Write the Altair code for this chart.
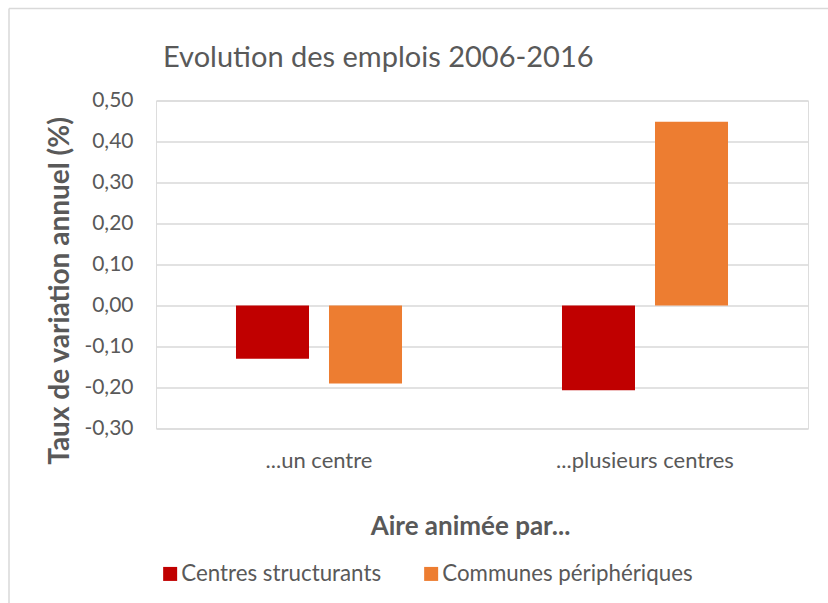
import altair as alt
import pandas as pd

chart_title = "Evolution des emplois 2006-2016"
categories = ["...un centre", "...plusieurs centres"]
series = ["Centres structurants", "Communes périphériques"]
centres_structurants = [-0.13, -0.207]
communes_peripheriques = [-0.19, 0.448]
y_ticks = [-0.3, -0.2, -0.1, 0.0, 0.1, 0.2, 0.3, 0.4, 0.5]
colors = ["#C00000", "#ED7D31"]

rows = []
for i, c in enumerate(categories):
    rows.append({"cat": c, "serie": series[0], "val": centres_structurants[i]})
    rows.append({"cat": c, "serie": series[1], "val": communes_peripheriques[i]})
df = pd.DataFrame(rows)
title_df = pd.DataFrame({"t": [chart_title]})

FONT = "Lato"
GRAY = "#595959"

bars = alt.Chart(df).mark_bar().encode(
    x=alt.X("cat:N", sort=categories,
            scale=alt.Scale(paddingInner=0, paddingOuter=0),
            axis=alt.Axis(title="Aire animée par...", labelAngle=0, domain=False, ticks=False,
                          grid=False, labelPadding=22, labelFontSize=22, labelColor=GRAY,
                          labelFont=FONT, titleFont=FONT, titleFontSize=26, titleFontWeight="bold",
                          titleColor=GRAY, titleX=314, titleY=98, titleBaseline="middle")),
    xOffset=alt.XOffset("serie:N", sort=series,
                        scale=alt.Scale(paddingInner=0.215, paddingOuter=0.86)),
    y=alt.Y("val:Q", scale=alt.Scale(domain=[-0.3, 0.5], nice=False),
            axis=alt.Axis(title="Taux de variation annuel (%)", values=y_ticks,
                          labelExpr="replace(replace(format(datum.value, '.2f'), '.', ','), '\u2212', '-')",
                          domain=False, ticks=False, labelPadding=23, labelFontSize=21,
                          labelColor=GRAY, labelFont=FONT, gridColor="#D9D9D9", gridWidth=1.5,
                          titleFont=FONT, titleFontSize=28, titleFontWeight="bold",
                          titleColor=GRAY, titleX=-96, titleY=190, titleBaseline="middle")),
    color=alt.Color("serie:N", sort=series, scale=alt.Scale(domain=series, range=colors),
                    legend=alt.Legend(title=None, orient="none", direction="horizontal",
                                      legendX=3, legendY=462, symbolType="square",
                                      symbolSize=196, symbolStrokeWidth=0, labelFontSize=22.3,
                                      labelFont=FONT, labelColor=GRAY, columnPadding=38,
                                      labelOffset=0, labelLimit=0)),
)

title_mark = alt.Chart(title_df).mark_text(
    align="left", baseline="middle", font=FONT, fontSize=29, color=GRAY
).encode(x=alt.value(7), y=alt.value(-43), text="t:N")

border_left = alt.Chart(title_df).mark_rule(color="#D9D9D9", strokeWidth=1.5).encode(
    x=alt.value(-147), y=alt.value(-92), y2=alt.value(510))
border_top = alt.Chart(title_df).mark_rule(color="#D9D9D9", strokeWidth=1.5).encode(
    x=alt.value(-147), x2=alt.value(680), y=alt.value(-92))

chart = alt.layer(bars, title_mark, border_left, border_top).properties(
    width=652, height=328,
    padding={"left": 156, "top": 100.5, "right": 20, "bottom": 174.5},
    autosize=alt.AutoSizeParams(type="none"),
).configure_view(stroke=None).configure(background="white")

chart.save("out.html", embed_options={"renderer": "svg", "actions": False})
